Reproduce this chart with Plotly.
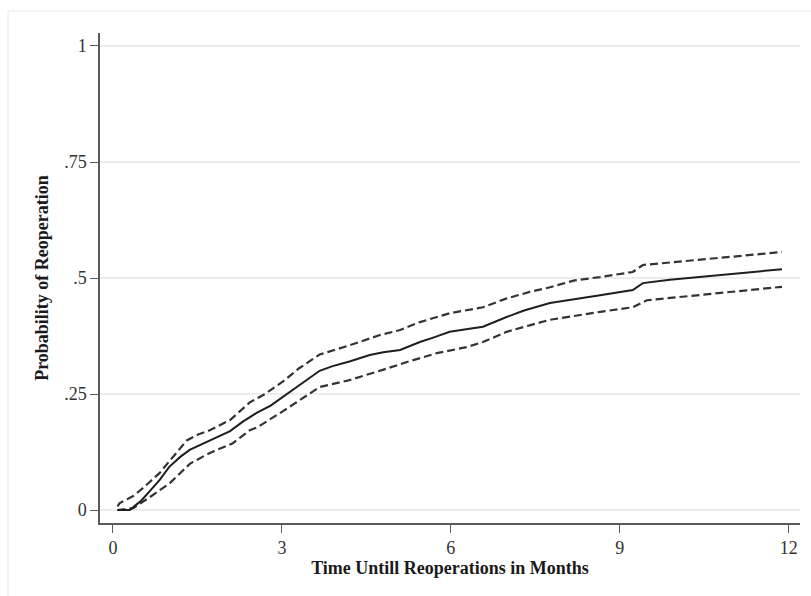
import plotly.graph_objects as go

# Cumulative probability of reoperation (estimate) and 95% CI bounds
t_est = [0.08, 0.3, 0.4, 0.5, 0.65, 0.83, 1.0, 1.2, 1.37, 1.55, 1.72, 2.08, 2.3, 2.56, 2.8,
         3.02, 3.3, 3.67, 3.9, 4.2, 4.56, 4.8, 5.1, 5.45, 5.7, 5.98, 6.3, 6.57, 6.99, 7.3,
         7.76, 8.2, 8.65, 9.23, 9.41, 9.89, 10.4, 11.0, 11.88]
p_est = [0.0, 0.0, 0.01, 0.02, 0.04, 0.065, 0.093, 0.115, 0.13, 0.14, 0.15, 0.17, 0.19, 0.21, 0.225,
         0.244, 0.27, 0.30, 0.31, 0.32, 0.334, 0.34, 0.345, 0.362, 0.372, 0.384, 0.39, 0.395, 0.416, 0.43,
         0.446, 0.455, 0.463, 0.474, 0.489, 0.496, 0.502, 0.51, 0.519]

t_up = [0.08, 0.12, 0.36, 0.53, 0.83, 1.07, 1.31, 1.5, 1.72, 2.08, 2.43, 2.7, 3.02, 3.3, 3.67,
        4.2, 4.74, 5.1, 5.45, 5.98, 6.57, 6.99, 7.4, 7.76, 8.2, 8.65, 9.23, 9.41, 10.4, 11.0, 11.88]
p_up = [0.008, 0.015, 0.03, 0.047, 0.08, 0.114, 0.15, 0.162, 0.172, 0.194, 0.232, 0.25, 0.277, 0.305, 0.335,
        0.355, 0.377, 0.388, 0.405, 0.424, 0.437, 0.456, 0.47, 0.48, 0.495, 0.502, 0.513, 0.528, 0.539, 0.546, 0.556]

t_lo = [0.08, 0.36, 0.66, 1.01, 1.37, 1.72, 2.13, 2.43, 2.56, 3.02, 3.67, 4.2, 4.79, 5.22, 5.75,
        6.28, 6.57, 6.99, 7.4, 7.76, 8.65, 9.23, 9.48, 10.4, 11.0, 11.88]
p_lo = [0.0, 0.004, 0.028, 0.058, 0.1, 0.123, 0.144, 0.172, 0.178, 0.213, 0.265, 0.28, 0.302, 0.319, 0.338,
        0.351, 0.362, 0.384, 0.398, 0.41, 0.427, 0.437, 0.452, 0.463, 0.47, 0.481]

x_ticks = [0, 3, 6, 9, 12]
x_tick_text = ["0", "3", "6", "9", "12"]
y_ticks = [0, 0.25, 0.5, 0.75, 1]
y_tick_text = ["0", ".25", ".5", ".75", "1"]

FONT = "Liberation Serif, Times New Roman, serif"
AX = "#5a5a5a"

fig = go.Figure()
fig.add_trace(go.Scatter(x=t_up, y=p_up, mode="lines",
                         line=dict(color="#333333", width=2.2, dash="8px,4px"), showlegend=False))
fig.add_trace(go.Scatter(x=t_lo, y=p_lo, mode="lines",
                         line=dict(color="#333333", width=2.2, dash="8px,4px"), showlegend=False))
fig.add_trace(go.Scatter(x=t_est, y=p_est, mode="lines",
                         line=dict(color="#1e1e1e", width=2), showlegend=False))

fig.update_layout(
    width=811, height=596,
    margin=dict(l=100, r=11, t=33, b=73),
    paper_bgcolor="white", plot_bgcolor="white",
    font=dict(family=FONT, color="#222222", size=17),
    xaxis=dict(range=[-0.23, 12.2], tickvals=x_ticks, ticktext=x_tick_text,
               showgrid=False, zeroline=False, showline=True, linecolor=AX, linewidth=1.5,
               ticks="outside", ticklen=8, tickcolor=AX, tickwidth=1.2,
               tickfont=dict(family=FONT, size=18, color="#333333"),
               title=dict(text="<b>Time Untill Reoperations in Months</b>",
                          font=dict(family=FONT, size=18, color="#1a1a1a"), standoff=2)),
    yaxis=dict(range=[-0.028, 1.028], tickvals=y_ticks, ticktext=y_tick_text,
               showgrid=True, gridcolor="#ededed", gridwidth=1.5, zeroline=False,
               showline=True, linecolor=AX, linewidth=1.5,
               ticks="outside", ticklen=8, tickcolor=AX, tickwidth=1.2,
               tickfont=dict(family=FONT, size=18, color="#333333"),
               title=dict(text="<b>Probability of Reoperation</b>",
                          font=dict(family=FONT, size=18, color="#1a1a1a"), standoff=11)),
)

# faint outer frame
fig.add_shape(type="rect", xref="paper", yref="paper",
              x0=-0.1314, x1=1.05, y0=-0.2, y1=1.0449,
              line=dict(color="#f0f0f0", width=1.5), layer="below")

fig.write_html("out.html")
